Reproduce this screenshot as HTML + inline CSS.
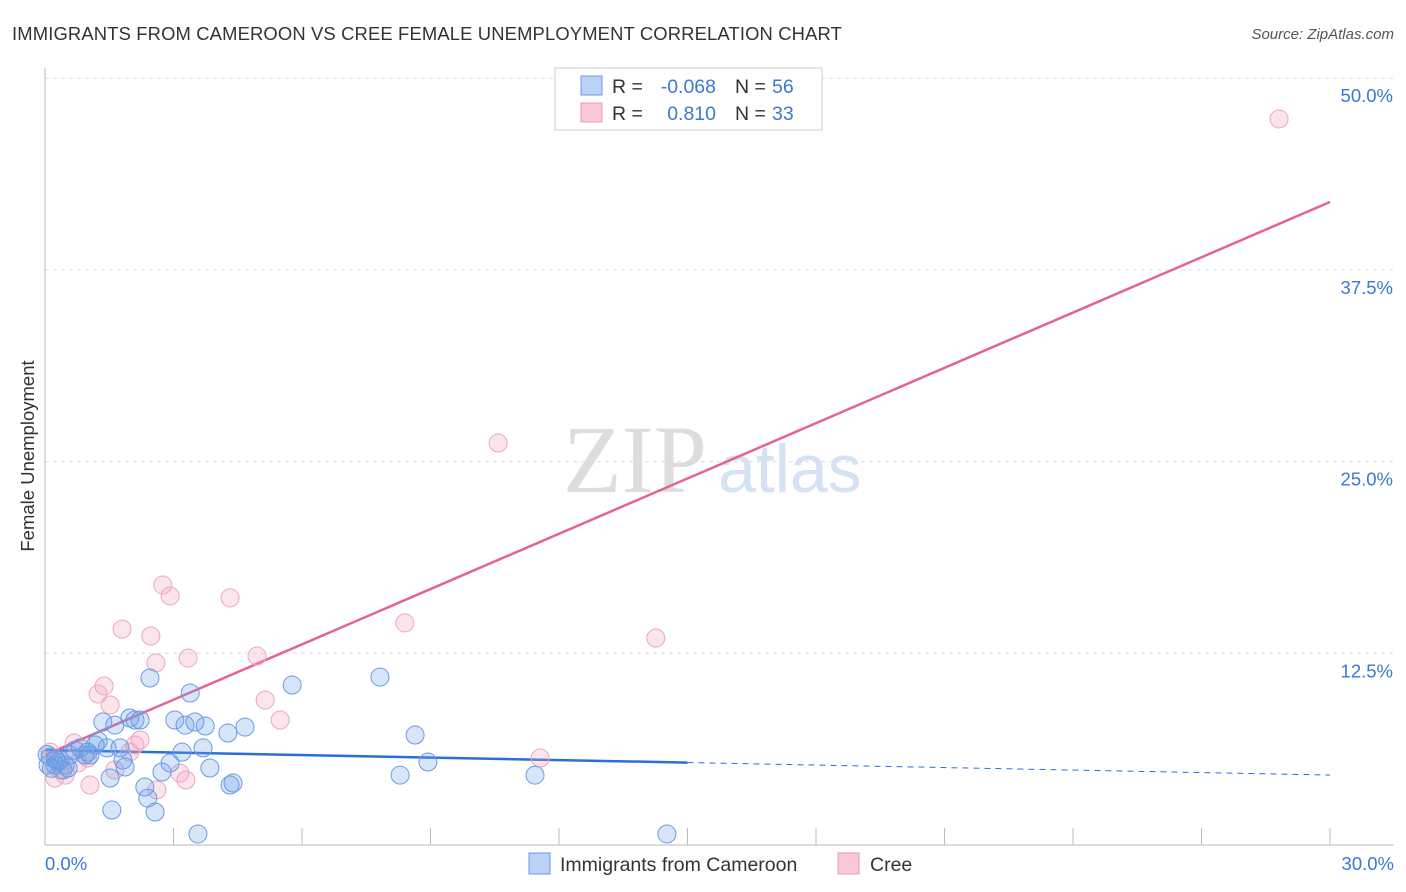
<!DOCTYPE html>
<html><head><meta charset="utf-8"><style>
body{margin:0;background:#fff;font-family:"Liberation Sans",sans-serif}
svg{display:block}
</style></head><body>
<svg id="chart" width="1406" height="892">
<text x="12" y="40" font-size="18.4" letter-spacing="0.15" fill="#333">IMMIGRANTS FROM CAMEROON VS CREE FEMALE UNEMPLOYMENT CORRELATION CHART</text>
<text x="1394" y="39" font-size="15" fill="#555" text-anchor="end" font-style="italic">Source: ZipAtlas.com</text>
<text x="635" y="492" font-size="96" fill="#ddd" text-anchor="middle" font-family="Liberation Serif,serif">ZIP</text>
<text x="718" y="492" font-size="68" fill="#d4e2f4">atlas</text>
<text transform="translate(34,456) rotate(-90)" font-size="18.5" fill="#333" text-anchor="middle">Female Unemployment</text>
<g id="grid"></g><g id="ticks"></g><g id="trend"></g><g id="pts"></g>
<line x1="45" y1="68" x2="45" y2="845" stroke="#bbb"/>
<line x1="45" y1="845" x2="1394" y2="845" stroke="#bbb"/>
<text x="45" y="870" font-size="18.5" fill="#3a78d8">0.0%</text>
<text x="1394" y="870" font-size="18.5" fill="#3a78d8" text-anchor="end">30.0%</text>
<g>
<rect x="555" y="68" width="267" height="62" fill="#fff" stroke="#ccc"/>
<rect x="581" y="76" width="21" height="19" fill="#b9d2f5" stroke="#6c9be0"/>
<rect x="581" y="103" width="21" height="19" fill="#f9c9d7" stroke="#ec98b3"/>
<text x="612" y="93" font-size="19.5" fill="#333">R =</text>
<text x="716" y="93" font-size="19.5" fill="#3a78d8" text-anchor="end">-0.068</text>
<text x="735" y="93" font-size="19.5" fill="#333">N =</text>
<text x="772" y="93" font-size="19.5" fill="#3a78d8">56</text>
<text x="612" y="120" font-size="19.5" fill="#333">R =</text>
<text x="716" y="120" font-size="19.5" fill="#3a78d8" text-anchor="end">0.810</text>
<text x="735" y="120" font-size="19.5" fill="#333">N =</text>
<text x="772" y="120" font-size="19.5" fill="#3a78d8">33</text>
</g>
<g>
<rect x="529" y="853" width="21" height="21" fill="#b9d2f5" stroke="#6c9be0"/>
<text x="560" y="871" font-size="19.5" fill="#333">Immigrants from Cameroon</text>
<rect x="838" y="853" width="21" height="21" fill="#f9c9d7" stroke="#ec98b3"/>
<text x="870" y="871" font-size="19.5" fill="#333">Cree</text>
</g>
</svg>
<script>
const yTicks=[12.5,25,37.5,50];
const yTickLabels=["12.5%","25.0%","37.5%","50.0%"];
const xTicks=[0,3,6,9,12,15,18,21,24,27,30];
const blueX=[0.12,0.23,0.35,0.47,0.58,0.70,0.82,0.93,1.05,1.17,1.24,1.35,1.45,1.52,1.56,1.63,1.75,1.82,1.87,1.98,2.10,2.22,2.33,2.40,2.45,2.57,2.73,2.92,3.03,3.20,3.27,3.39,3.50,3.57,3.69,3.74,3.85,4.27,4.32,4.39,4.67,5.77,7.82,8.29,8.64,8.94,11.44,14.52,0.30,0.42,0.07,0.54,1.00,0.05,0.15,0.25];
const blueY=[5.74,5.22,5.54,5.22,5.87,6.19,6.33,5.87,5.87,6.52,6.78,8.02,6.33,4.37,2.28,7.82,6.33,5.54,5.09,8.28,8.15,8.15,3.78,3.06,10.89,2.15,4.76,5.35,8.15,6.06,7.82,9.91,8.02,0.72,6.33,7.76,5.02,7.30,3.91,4.04,7.69,10.43,10.95,4.56,7.17,5.41,4.56,0.72,5.41,4.89,5.22,5.02,6.06,5.9,5.0,5.6];
const pinkX=[28.81,10.58,2.75,2.92,4.32,1.80,2.47,8.40,14.26,2.59,3.34,4.95,1.38,1.24,1.52,5.14,5.49,2.22,2.10,0.68,1.98,1.00,0.35,0.23,1.05,1.63,3.15,3.29,2.61,11.56,0.47,0.77,0.12];
const pinkY=[47.34,26.21,16.95,16.24,16.11,14.08,13.63,14.48,13.50,11.87,12.19,12.32,10.37,9.85,9.13,9.45,8.15,6.85,6.52,6.65,6.06,5.67,4.89,4.37,3.91,4.89,4.69,4.24,3.59,5.67,4.56,5.35,6.06];
const blueTrend=[6.19,4.56];
const pinkTrend=[5.87,41.93];
const NS="http://www.w3.org/2000/svg";
const sx=v=>45+v/30*1285, sy=v=>845-v/12.5*191.7;
function mk(t,a,p){const e=document.createElementNS(NS,t);for(const k in a)e.setAttribute(k,a[k]);p.appendChild(e);return e;}
const grid=document.getElementById('grid'),ticks=document.getElementById('ticks'),trend=document.getElementById('trend'),pts=document.getElementById('pts');
yTicks.forEach((v,i)=>{
 const l=mk('line',{x1:45,x2:1394,y1:sy(v),y2:sy(v),stroke:'#ddd','stroke-dasharray':'4,4'},grid);
 
 
 const t=mk('text',{x:1393,y:sy(v)+24,'font-size':18.5,fill:'#3a78d8','text-anchor':'end'},ticks);
 t.textContent=yTickLabels[i];
 
 
});
xTicks.forEach(v=>{
 const l=mk('line',{x1:sx(v),x2:sx(v),y1:828,y2:845,stroke:'#bbb'},ticks);
 
 
});
function lineAt(tr,x){return tr[0]+(tr[1]-tr[0])*x/30;}
let a=mk('line',{x1:sx(0),y1:sy(lineAt(blueTrend,0)),x2:sx(15),y2:sy(lineAt(blueTrend,15)),stroke:'#2a6fd6','stroke-width':2.5},trend);


a=mk('line',{x1:sx(15),y1:sy(lineAt(blueTrend,15)),x2:sx(30),y2:sy(lineAt(blueTrend,30)),stroke:'#2a6fd6','stroke-width':1,'stroke-dasharray':'6,5'},trend);


a=mk('line',{x1:sx(0),y1:sy(lineAt(pinkTrend,0)),x2:sx(30),y2:sy(lineAt(pinkTrend,30)),stroke:'#e5648f','stroke-width':2.5},trend);


pinkX.forEach((x,i)=>{
 const c=mk('circle',{cx:sx(x),cy:sy(pinkY[i]),r:9,fill:'rgba(242,160,188,0.28)',stroke:'#efa5bd','stroke-width':1},pts);
 
 
});
blueX.forEach((x,i)=>{
 const c=mk('circle',{cx:sx(x),cy:sy(blueY[i]),r:9,fill:'rgba(110,160,232,0.28)',stroke:'#6a9ae3','stroke-width':1},pts);
 
 
});
</script>
</body></html>
